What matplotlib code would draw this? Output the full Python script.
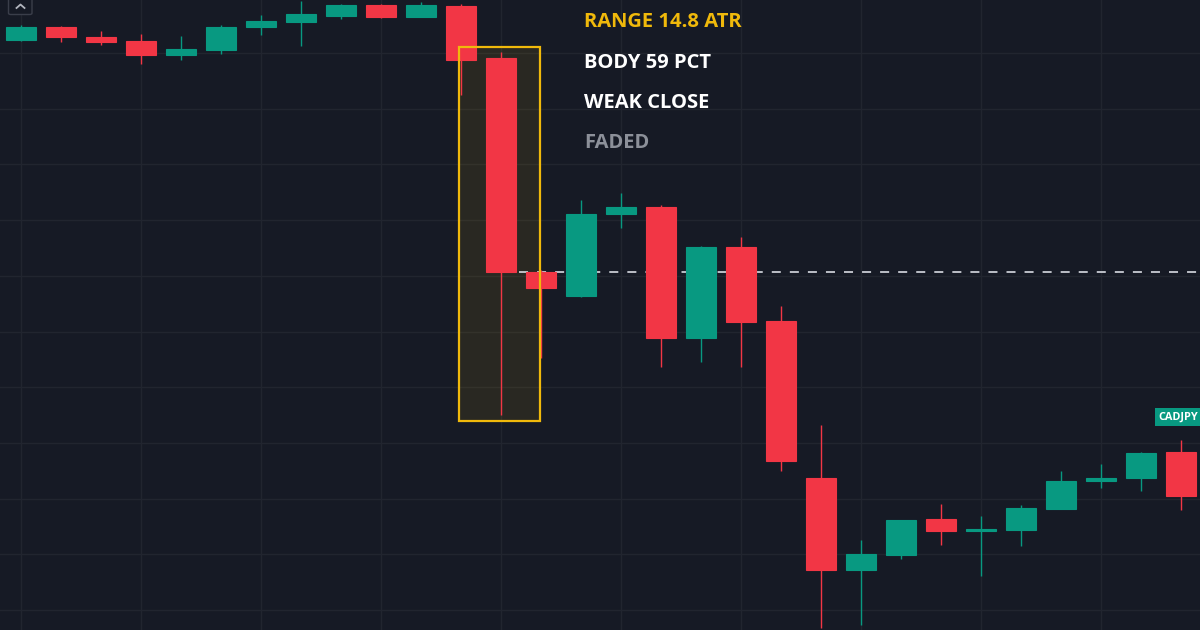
import matplotlib
matplotlib.use("Agg")
import matplotlib.pyplot as plt
from matplotlib.patches import Rectangle, FancyBboxPatch
import numpy as np

# ---- data (CADJPY candles) ----
opens  = [112.60, 112.73, 112.63, 112.59, 112.45, 112.50, 112.73, 112.78, 112.84, 112.95,
          112.83, 112.94, 112.42, 110.28, 110.04, 110.86, 110.93, 109.62, 110.53, 109.79,
          108.22, 107.30, 107.45, 107.81, 107.69, 107.70, 107.91, 108.19, 108.22, 108.48]
highs  = [112.75, 112.74, 112.69, 112.66, 112.64, 112.75, 112.85, 112.99, 112.96, 112.96,
          112.98, 112.96, 112.48, 110.30, 111.00, 111.07, 110.95, 110.54, 110.63, 109.94,
          108.75, 107.60, 107.80, 107.96, 107.84, 107.95, 108.29, 108.36, 108.48, 108.60]
lows   = [112.59, 112.58, 112.55, 112.36, 112.40, 112.46, 112.65, 112.54, 112.81, 112.82,
          112.83, 112.05, 108.85, 109.42, 110.03, 110.72, 109.33, 109.38, 109.33, 108.29,
          106.72, 106.75, 107.41, 107.55, 107.24, 107.54, 107.91, 108.12, 108.09, 107.90]
closes = [112.73, 112.63, 112.58, 112.45, 112.51, 112.73, 112.79, 112.86, 112.95, 112.83,
          112.95, 112.40, 110.28, 110.12, 110.86, 110.93, 109.62, 110.53, 109.78, 108.39,
          107.30, 107.46, 107.80, 107.69, 107.71, 107.92, 108.19, 108.22, 108.47, 108.04]

symbol = "CADJPY"
label_price = 108.83
ref_level = 110.28          # close of the highlighted candle
highlight_idx = 12
annotations = ["RANGE 14.8 ATR", "BODY 59 PCT", "WEAK CLOSE", "FADED"]

# ---- style ----
BG = "#161a25"
GRID = "#21252f"
UP = "#089981"
DOWN = "#f23645"
GOLD = "#f0b90b"
TXT_COLORS = [GOLD, "#ffffff", "#ffffff", "#8c9099"]

W, H, DPI = 1200, 630, 100
fig = plt.figure(figsize=(W / DPI, H / DPI), dpi=DPI, facecolor=BG)
ax = fig.add_axes([0, 0, 1, 1])
ax.set_facecolor(BG)

n = len(opens)
x = np.arange(n)
ax.set_xlim(-0.525, 29.475)
ax.set_ylim(106.70, 113.00)

# grid
for gx in range(0, n, 3):
    ax.axvline(gx, color=GRID, lw=1, zorder=0)
for gy in np.arange(112.47, 106.70, -0.557):
    ax.axhline(gy, color=GRID, lw=1, zorder=0)

# highlight box around the big candle
ax.add_patch(Rectangle((highlight_idx - 1.05, 108.79), 2.025, 112.53 - 108.79,
                       facecolor=GOLD, alpha=0.09, edgecolor="none", zorder=1))
ax.add_patch(Rectangle((highlight_idx - 1.05, 108.79), 2.025, 112.53 - 108.79,
                       facecolor="none", edgecolor=GOLD, lw=1.6, zorder=4))

# dashed reference line
ax.plot([highlight_idx + 0.45, 29.475], [ref_level, ref_level], color="#c9ccd3",
        lw=1.3, ls=(0, (5, 5)), zorder=2)

# candles
bw = 0.76
for i in range(n):
    o, h, l, c = opens[i], highs[i], lows[i], closes[i]
    col = UP if c >= o else DOWN
    ax.plot([x[i], x[i]], [l, h], color=col, lw=1, zorder=3, solid_capstyle="butt")
    lo, hi = min(o, c), max(o, c)
    ax.add_patch(Rectangle((x[i] - bw / 2, lo), bw, max(hi - lo, 0.02),
                           facecolor=col, edgecolor=col, lw=0.8, zorder=3))

# symbol label
ax.text(29.475 - 0.05, label_price, symbol, color="#ffffff", fontsize=7.8,
        fontweight="bold", family="Open Sans", ha="right", va="center", zorder=6,
        bbox=dict(boxstyle="square,pad=0.28", facecolor=UP, edgecolor="none"))

# annotation texts
ys = [22, 63, 103, 143]
for t, yy, cc in zip(annotations, ys, TXT_COLORS):
    fig.text(584 / W, 1 - yy / H, t, color=cc, fontsize=14.5, fontweight="bold",
             family="Open Sans", ha="left", va="center")

# little collapse button top-left
btn = FancyBboxPatch((8.5 / W, 1 - 14.5 / H), 23.5 / W, 20 / H,
                     boxstyle="round,pad=0,rounding_size=0.002",
                     transform=fig.transFigure, facecolor=BG, edgecolor="#3a3e4a",
                     lw=1, zorder=10)
fig.patches.append(btn)
caret = plt.Line2D([16.5 / W, 20.5 / W, 24.5 / W], [1 - 8 / H, 1 - 4.5 / H, 1 - 8 / H],
                   transform=fig.transFigure, color="#b2b5be", lw=1.3, zorder=11)
fig.lines.append(caret)

for s in ax.spines.values():
    s.set_visible(False)
ax.set_xticks([])
ax.set_yticks([])

fig.savefig("out.png", dpi=DPI, facecolor=BG)
